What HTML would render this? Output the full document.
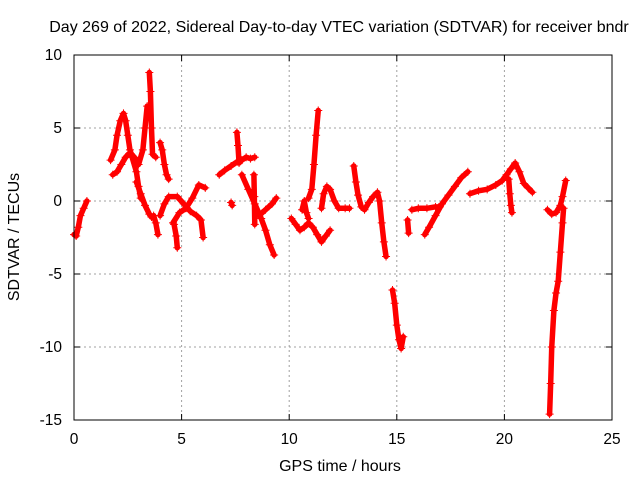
<!DOCTYPE html>
<html><head><meta charset="utf-8"><style>
body{margin:0;background:#fff}
svg{display:block;font-family:"Liberation Sans",sans-serif;font-size:15.5px}
</style></head><body>
<svg id="c" width="640" height="480"></svg>
<script>
const xTicks=[0,5,10,15,20,25];
const yTicks=[10,5,0,-5,-10,-15];
const seg1=[[0.0,-2.3],[0.1,-2.4],[0.2,-1.8],[0.3,-1.0],[0.45,-0.5],[0.6,0.0]];
const seg2=[[1.7,2.8],[1.9,3.5],[2.0,4.5],[2.15,5.5],[2.3,6.0],[2.4,5.5],[2.5,4.5],[2.6,3.5],[2.7,3.0],[2.9,2.0],[3.0,1.0],[3.1,0.2]];
const seg3=[[1.8,1.8],[2.0,2.0],[2.2,2.5],[2.4,3.0],[2.6,3.3],[2.8,3.0],[3.0,2.5],[3.2,3.5],[3.3,5.0],[3.4,6.5]];
const seg4=[[3.5,8.8],[3.55,7.5],[3.6,5.0],[3.65,3.2],[3.8,3.0]];
const seg5=[[2.9,1.3],[3.1,0.5],[3.3,-0.3],[3.5,-0.9],[3.6,-1.1],[3.7,-1.0],[3.8,-1.5],[3.9,-2.3]];
const seg6=[[4.0,4.0],[4.1,3.5],[4.2,2.5],[4.3,1.8],[4.4,1.5]];
const seg7=[[4.0,-1.0],[4.2,-0.2],[4.4,0.3],[4.8,0.3],[5.1,-0.2],[5.4,-0.7],[5.7,-1.0],[5.9,-1.3],[6.0,-2.5]];
const seg8=[[4.65,-1.6],[4.75,-2.4],[4.8,-3.2]];
const seg9=[[4.6,-1.5],[4.9,-0.8],[5.2,-0.5],[5.5,0.2],[5.8,1.1],[6.1,0.9]];
const seg10=[[6.75,1.8],[7.0,2.1],[7.3,2.4],[7.6,2.7],[7.8,2.8],[8.0,3.0],[8.2,2.9],[8.4,3.0]];
const seg11=[[7.57,4.7],[7.62,3.8],[7.67,2.6]];
const seg12=[[7.3,-0.1],[7.35,-0.3]];
const seg13=[[7.8,1.8],[8.1,0.8],[8.4,-0.2],[8.7,-1.2],[8.9,-2.0],[9.1,-3.0],[9.3,-3.7]];
const seg14=[[8.6,-1.0],[8.9,-0.6],[9.2,-0.2],[9.4,0.2]];
const seg15=[[8.36,1.8],[8.38,0.3],[8.4,-1.6]];
const seg16=[[10.1,-1.2],[10.3,-1.6],[10.5,-2.0],[10.7,-1.8],[10.9,-1.5],[11.1,-1.8],[11.3,-2.3],[11.5,-2.8],[11.7,-2.4],[11.9,-2.0]];
const seg17=[[10.6,-0.6],[10.7,0.0],[10.8,-0.8],[10.9,-1.2]];
const seg18=[[10.9,0.2],[11.05,0.8],[11.15,2.5],[11.25,4.5],[11.35,6.2]];
const seg19=[[11.5,-0.5],[11.6,0.5],[11.75,1.0],[11.9,0.8],[12.1,0.0],[12.3,-0.5],[12.6,-0.5],[12.8,-0.5]];
const seg20=[[13.0,2.4],[13.1,1.3],[13.2,0.4],[13.35,-0.4],[13.5,-0.6],[13.7,-0.1],[13.9,0.3],[14.1,0.6],[14.2,0.0],[14.3,-1.5],[14.4,-2.8],[14.5,-3.8]];
const seg21=[[14.8,-6.1],[14.9,-7.0],[15.0,-8.5],[15.1,-9.5],[15.2,-10.1],[15.3,-9.3]];
const seg22=[[15.5,-1.3],[15.55,-2.2]];
const seg23=[[15.7,-0.6],[16.0,-0.5],[16.4,-0.5],[16.8,-0.4],[17.0,-0.4]];
const seg24=[[16.3,-2.3],[16.5,-1.8],[16.8,-1.0],[17.1,-0.2],[17.4,0.4],[17.7,1.0],[18.0,1.6],[18.3,2.0]];
const seg25=[[18.4,0.5],[18.8,0.7],[19.2,0.8],[19.6,1.1],[19.9,1.4],[20.1,1.8],[20.3,2.2],[20.5,2.6],[20.7,2.0],[20.9,1.2],[21.1,0.9],[21.3,0.6]];
const seg26=[[20.2,1.5],[20.25,0.5],[20.3,-0.3],[20.35,-0.8]];
const seg27=[[22.0,-0.6],[22.2,-0.9],[22.4,-0.8],[22.6,-0.3],[22.7,0.3],[22.85,1.4]];
const seg28=[[22.75,-0.5],[22.7,-1.5],[22.6,-3.5],[22.5,-5.5],[22.4,-6.3],[22.3,-7.5],[22.2,-10.0],[22.15,-12.5],[22.1,-14.6]];
const series=[seg1,seg2,seg3,seg4,seg5,seg6,seg7,seg8,seg9,seg10,seg11,seg12,seg13,seg14,seg15,seg16,seg17,seg18,seg19,seg20,seg21,seg22,seg23,seg24,seg25,seg26,seg27,seg28];

const L=74,R=612,T=55,B=420;
const X=h=>L+(h-0)/25*(R-L);
const Y=v=>T+(10-v)/25*(B-T);
const NS="http://www.w3.org/2000/svg";
const svg=document.getElementById('c');
function mk(t,a,p){const e=document.createElementNS(NS,t);for(const k in a)e.setAttribute(k,a[k]);(p||svg).appendChild(e);return e;}
const title=mk('text',{x:339,y:32,'text-anchor':'middle','font-size':'16px'});title.textContent='Day 269 of 2022, Sidereal Day-to-day VTEC variation (SDTVAR) for receiver bndr';


const grid=mk('g',{stroke:'#a0a0a0','stroke-dasharray':'2,3','stroke-width':1});


xTicks.forEach(t=>{if(t>0&&t<25)mk('line',{x1:X(t),x2:X(t),y1:T,y2:B},grid);
 const tx=mk('text',{x:X(t),y:444,'text-anchor':'middle'});tx.textContent=t;
 
 
 mk('line',{x1:X(t),x2:X(t),y1:B,y2:B-6,stroke:'#000'});mk('line',{x1:X(t),x2:X(t),y1:T,y2:T+6,stroke:'#000'});});
yTicks.forEach(t=>{if(t<10&&t>-15)mk('line',{x1:L,x2:R,y1:Y(t),y2:Y(t)},grid);
 const tx=mk('text',{x:62,y:Y(t)+5,'text-anchor':'end'});tx.textContent=t;
 
 
 mk('line',{x1:L,x2:L+6,y1:Y(t),y2:Y(t),stroke:'#000'});mk('line',{x1:R,x2:R-6,y1:Y(t),y2:Y(t),stroke:'#000'});});
const g=mk('g',{stroke:'#f00',fill:'none'});


series.forEach(s=>{
 const pl=mk('polyline',{points:s.map(p=>X(p[0])+','+Y(p[1])).join(' '),'stroke-width':5.5,'stroke-linejoin':'round','stroke-linecap':'round'},g);
 
 
 s.forEach(p=>{const x=X(p[0]),y=Y(p[1]);
  const m=mk('path',{d:`M${x-4},${y}H${x+4}M${x},${y-4}V${y+4}`,'stroke-width':1},g);
  
  });
});
const fr=mk('rect',{x:L,y:T,width:R-L,height:B-T,fill:'none',stroke:'#000'});


const xl=mk('text',{x:340,y:471,'text-anchor':'middle','font-size':'16px'});xl.textContent='GPS time / hours';


const yl=mk('text',{x:0,y:0,'text-anchor':'middle','font-size':'16px',transform:'translate(19,237) rotate(-90)'});yl.textContent='SDTVAR / TECUs';


</script>
</body></html>
